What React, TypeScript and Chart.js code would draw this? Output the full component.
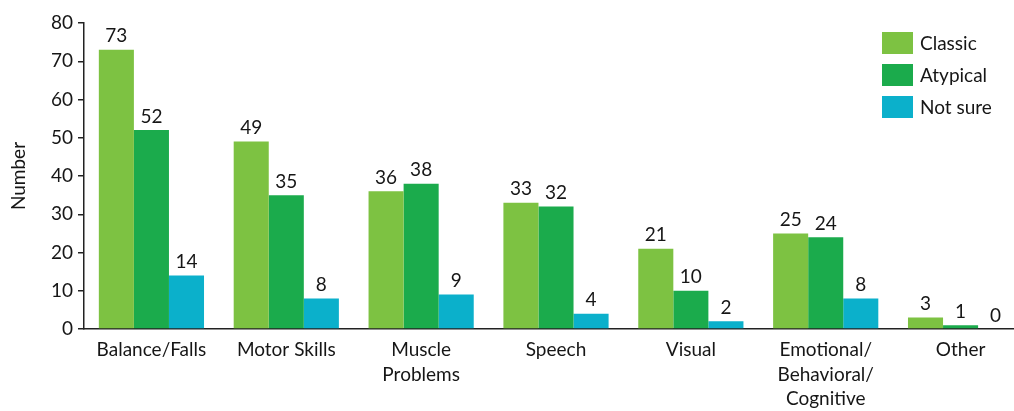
import React, { useEffect, useRef } from "react";
import { Chart, registerables } from "chart.js";

Chart.register(...registerables);

const categories: (string | string[])[] = [
  "Balance/Falls",
  "Motor Skills",
  ["Muscle", "Problems"],
  "Speech",
  "Visual",
  ["Emotional/", "Behavioral/", "Cognitive"],
  "Other",
];
const classicValues = [73, 49, 36, 33, 21, 25, 3];
const atypicalValues = [52, 35, 38, 32, 10, 24, 1];
const notSureValues = [14, 8, 9, 4, 2, 8, 0];
const seriesNames = ["Classic", "Atypical", "Not sure"];
const seriesColors = ["#7dc242", "#1bab4c", "#0bb0cb"];
const yTicks = [0, 10, 20, 30, 40, 50, 60, 70, 80];

const FONT = "Lato, 'Open Sans', sans-serif";
const TEXT = "#161616";

const valueLabels = {
  id: "valueLabels",
  afterDatasetsDraw(chart: any) {
    const ctx = chart.ctx;
    ctx.save();
    ctx.font = `19px ${FONT}`;
    ctx.fillStyle = TEXT;
    ctx.textAlign = "center";
    ctx.textBaseline = "bottom";
    chart.data.datasets.forEach((ds: any, i: number) => {
      const meta = chart.getDatasetMeta(i);
      meta.data.forEach((bar: any, j: number) => {
        ctx.fillText(String(ds.data[j]), bar.x, bar.y - 4);
      });
    });
    ctx.restore();
  },
};

const sideLegend = {
  id: "sideLegend",
  afterDraw(chart: any) {
    const ctx = chart.ctx;
    ctx.save();
    ctx.font = `19px ${FONT}`;
    ctx.textBaseline = "middle";
    ctx.textAlign = "left";
    seriesNames.forEach((name, i) => {
      const top = 32 + i * 32;
      ctx.fillStyle = seriesColors[i];
      ctx.fillRect(882, top, 31, 22);
      ctx.fillStyle = TEXT;
      ctx.fillText(name, 920, top + 12);
    });
    ctx.restore();
  },
};

export default function App() {
  const ref = useRef<HTMLCanvasElement | null>(null);

  useEffect(() => {
    if (!ref.current) return;
    const values = [classicValues, atypicalValues, notSureValues];
    const chart = new Chart(ref.current, {
      type: "bar",
      data: {
        labels: categories,
        datasets: seriesNames.map((name, i) => ({
          label: name,
          data: values[i],
          backgroundColor: seriesColors[i],
          borderWidth: 0,
          barPercentage: 1,
          categoryPercentage: 0.78,
        })),
      },
      options: {
        animation: false,
        responsive: true,
        maintainAspectRatio: false,
        layout: { padding: { top: 23, right: 0, left: 0, bottom: 0 } },
        plugins: {
          legend: { display: false },
          tooltip: { enabled: false },
        },
        scales: {
          x: {
            grid: { display: false, drawTicks: false },
            border: { display: true, color: "#222", width: 1.5 },
            ticks: {
              color: TEXT,
              font: { family: FONT, size: 19, lineHeight: 1.28 },
              padding: 9,
              maxRotation: 0,
              autoSkip: false,
            },
            afterFit(scale: any) {
              scale.height = 82;
            },
          },
          y: {
            min: 0,
            max: 80,
            afterBuildTicks(scale: any) {
              scale.ticks = yTicks.map((v) => ({ value: v }));
            },
            grid: {
              drawOnChartArea: false,
              drawTicks: true,
              tickLength: 6,
              color: "#222",
              lineWidth: 1.5,
            },
            border: { display: true, color: "#222", width: 1.5 },
            ticks: {
              color: TEXT,
              font: { family: FONT, size: 19 },
              padding: 5,
            },
            title: {
              display: true,
              text: "Number",
              color: TEXT,
              font: { family: FONT, size: 19 },
              padding: { top: 7, bottom: 0 },
            },
            afterFit(scale: any) {
              scale.width = 84;
            },
          },
        },
      },
      plugins: [valueLabels, sideLegend],
    });
    return () => chart.destroy();
  }, []);

  return (
    <div
      style={{
        position: "fixed",
        left: 0,
        top: 0,
        width: 1014,
        height: 411,
        overflow: "hidden",
        background: "#fff",
      }}
    >
      <div style={{ position: "relative", width: 1028, height: 411 }}>
        <canvas ref={ref} />
      </div>
    </div>
  );
}
